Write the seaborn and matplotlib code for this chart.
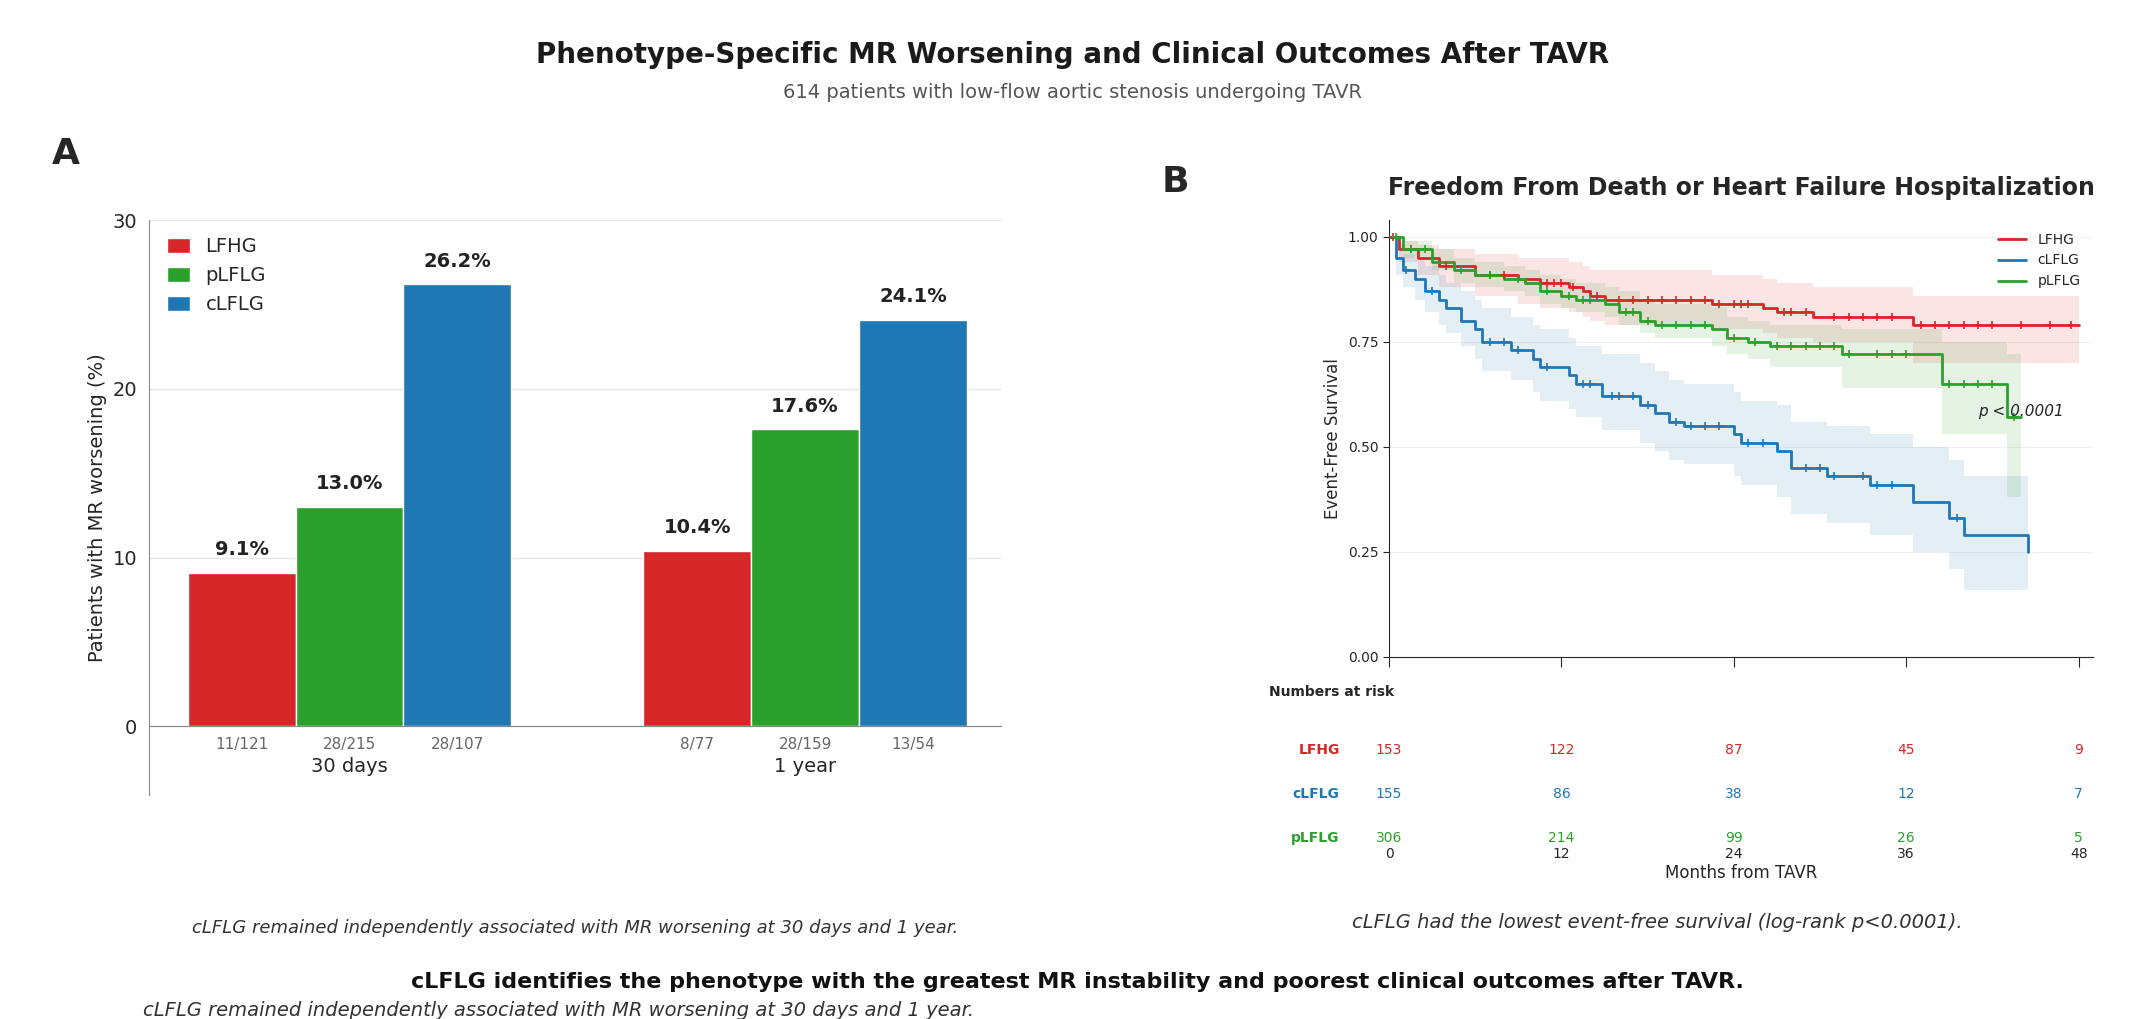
import numpy as np
import pandas as pd
import matplotlib
matplotlib.use("Agg")
import matplotlib.pyplot as plt
import seaborn as sns

sns.set_style("white")
plt.rcParams['font.family'] = ['DejaVu Sans']

RED = "#d62728"
GREEN = "#2ca02c"
BLUE = "#1f77b4"

# Panel A data
timepoints = ["30 days", "1 year"]
phenotypes = ["LFHG", "pLFLG", "cLFLG"]
pct_30d = [9.1, 13.0, 26.2]
pct_1y = [10.4, 17.6, 24.1]
frac_30d = ["11/121", "28/215", "28/107"]
frac_1y = ["8/77", "28/159", "13/54"]

# Panel B data (Kaplan-Meier steps)
times_r = [0, 0.7, 2, 3.5, 6, 9, 10.5, 12.5, 13.5, 14, 15, 22.5, 26, 27, 29.5, 36.5, 48]
surv_r = [1.0, 0.97, 0.95, 0.93, 0.91, 0.90, 0.89, 0.88, 0.87, 0.86, 0.85, 0.84, 0.83, 0.82, 0.81, 0.79, 0.79]
lo_r = [1.0, 0.94, 0.91, 0.88, 0.86, 0.84, 0.83, 0.82, 0.81, 0.80, 0.79, 0.78, 0.77, 0.76, 0.75, 0.70, 0.70]
hi_r = [1.0, 0.99, 0.98, 0.97, 0.96, 0.95, 0.95, 0.94, 0.93, 0.92, 0.92, 0.91, 0.90, 0.89, 0.88, 0.86, 0.86]
cens_r = [0.3, 1.5, 4, 7, 8, 11, 11.5, 12, 12.8, 14.5, 16, 17, 18, 19, 20, 21, 22, 23, 24, 24.5, 25,
          27.5, 28, 29, 31, 32, 33, 34, 35, 37, 38, 39, 40, 41, 42, 44, 46, 47.5]

times_g = [0, 1, 3, 4.5, 6, 8, 9.5, 10.5, 12, 13, 15, 16, 17.5, 18.5, 22.5, 23.5, 25, 26.5, 31.5, 38.5, 43, 44]
surv_g = [1.0, 0.97, 0.94, 0.92, 0.91, 0.90, 0.89, 0.87, 0.86, 0.85, 0.84, 0.82, 0.80, 0.79, 0.78, 0.76,
          0.75, 0.74, 0.72, 0.65, 0.57, 0.57]
lo_g = [1.0, 0.95, 0.92, 0.89, 0.88, 0.87, 0.86, 0.84, 0.83, 0.82, 0.81, 0.79, 0.77, 0.76, 0.74, 0.72,
        0.71, 0.69, 0.64, 0.53, 0.38, 0.38]
hi_g = [1.0, 0.99, 0.97, 0.95, 0.94, 0.93, 0.92, 0.91, 0.90, 0.89, 0.88, 0.87, 0.85, 0.84, 0.83, 0.81,
        0.80, 0.79, 0.78, 0.75, 0.72, 0.72]
cens_g = [0.5, 1.5, 2.5, 5, 7, 9, 11, 12.5, 13.5, 14, 16.5, 17, 18, 19, 20, 21, 22, 24, 25.5, 27, 28,
          29, 30, 31, 32, 34, 35, 36, 39, 40, 41, 42, 43.5]

times_b = [0, 0.5, 1, 1.8, 2.5, 3.5, 4, 5, 6, 6.5, 8.5, 10, 10.5, 12.5, 13, 14.8, 17.5, 18.5, 19.5, 20.5,
           24, 24.5, 27, 28, 30.5, 33.5, 36.5, 39, 40, 44.5]
surv_b = [1.0, 0.95, 0.92, 0.90, 0.87, 0.85, 0.83, 0.80, 0.78, 0.75, 0.73, 0.71, 0.69, 0.67, 0.65, 0.62,
          0.60, 0.58, 0.56, 0.55, 0.53, 0.51, 0.49, 0.45, 0.43, 0.41, 0.37, 0.33, 0.29, 0.25]
lo_b = [1.0, 0.91, 0.88, 0.85, 0.82, 0.79, 0.77, 0.74, 0.71, 0.68, 0.66, 0.63, 0.61, 0.59, 0.57, 0.54,
        0.51, 0.49, 0.47, 0.46, 0.43, 0.41, 0.38, 0.34, 0.32, 0.29, 0.25, 0.21, 0.16, 0.13]
hi_b = [1.0, 0.98, 0.96, 0.95, 0.93, 0.91, 0.89, 0.87, 0.85, 0.83, 0.81, 0.79, 0.78, 0.76, 0.74, 0.72,
        0.70, 0.68, 0.66, 0.65, 0.63, 0.61, 0.60, 0.56, 0.55, 0.53, 0.50, 0.47, 0.43, 0.43]
cens_b = [1.2, 3, 7, 8, 9, 11, 13.5, 14, 15.5, 16, 17, 18, 20, 21, 22, 23, 25, 26, 29, 30, 31, 33, 34,
          35, 39.5]

risk_times = [0, 12, 24, 36, 48]
risk_lfhg = [153, 122, 87, 45, 9]
risk_clflg = [155, 86, 38, 12, 7]
risk_plflg = [306, 214, 99, 26, 5]

fig = plt.figure(figsize=(21.45, 10.19), dpi=100)
W, H = 2145, 1019


def box(x0, y0, x1, y1):
    return [x0 / W, 1 - y1 / H, (x1 - x0) / W, (y1 - y0) / H]


fig.text(0.5, 1 - 55 / H, "Phenotype-Specific MR Worsening and Clinical Outcomes After TAVR",
         ha="center", va="center", fontsize=20, fontweight="bold", color="#1a1a1a")
fig.text(0.5, 1 - 92 / H, "614 patients with low-flow aortic stenosis undergoing TAVR",
         ha="center", va="center", fontsize=14, color="#555555")

# ---- Panel A ----
axA = fig.add_axes(box(149, 220, 1001, 795))
df = pd.DataFrame({
    "time": np.repeat(timepoints, 3),
    "pheno": phenotypes * 2,
    "pct": pct_30d + pct_1y,
})
sns.barplot(data=df, x="time", y="pct", hue="pheno", order=timepoints, hue_order=phenotypes,
            palette=[RED, GREEN, BLUE], width=0.71, saturation=1, ax=axA, legend=True)
axA.set_xlim(-0.44, 1.43)
axA.set_ylim(-4.07, 30)
axA.set_yticks([0, 10, 20, 30])
axA.tick_params(axis="y", labelsize=14, length=5)
axA.yaxis.grid(True, color="#e6e6e6", lw=1)
axA.set_axisbelow(True)
axA.spines["bottom"].set_position(("data", 0))
axA.spines["top"].set_visible(False)
axA.spines["right"].set_visible(False)
for s in ["left", "bottom"]:
    axA.spines[s].set_color("#888888")
axA.set_xticks([0, 1])
axA.set_xticklabels([])
axA.set_xlabel("")
axA.set_ylabel("Patients with MR worsening (%)", fontsize=14)
for cont in axA.containers:
    for bar in cont:
        h = bar.get_height()
        axA.text(bar.get_x() + bar.get_width() / 2, h + 0.8, f"{h:.1f}%", ha="center", va="bottom",
                 fontsize=14, fontweight="bold", color="#222222")
bw = 0.71 / 3
for gi, fracs in enumerate([frac_30d, frac_1y]):
    for k, f in enumerate(fracs):
        axA.text(gi + (k - 1) * bw, -1.1, f, ha="center", va="center", fontsize=11, color="#666666")
    axA.text(gi, -2.4, timepoints[gi], ha="center", va="center", fontsize=14)
axA.legend(loc="upper left", frameon=False, fontsize=14, handlelength=1.2, handleheight=0.8,
           bbox_to_anchor=(0.0, 1.0))
fig.text(52 / W, 1 - 154 / H, "A", fontsize=26, fontweight="bold", va="center")
fig.text(575 / W, 1 - 928 / H, "cLFLG remained independently associated with MR worsening at 30 days and 1 year.",
         ha="center", va="center", fontsize=13, style="italic", color="#333333")

# ---- Panel B ----
axB = fig.add_axes(box(1389, 220, 2093, 657))
groups = [("LFHG", RED, times_r, surv_r, lo_r, hi_r, cens_r),
          ("cLFLG", BLUE, times_b, surv_b, lo_b, hi_b, cens_b),
          ("pLFLG", GREEN, times_g, surv_g, lo_g, hi_g, cens_g)]
for name, col, t, s, lo, hi, cens in groups:
    axB.fill_between(t, lo, hi, step="post", color=col, alpha=0.12, lw=0)
    sns.lineplot(x=t, y=s, drawstyle="steps-post", color=col, lw=2, label=name, ax=axB)
    idx = np.searchsorted(t, cens, side="right") - 1
    axB.scatter(cens, np.array(s)[idx], marker="+", s=40, color=col, lw=1.2, zorder=3)
axB.set_xlim(0, 49)
axB.set_ylim(0, 1.04)
axB.set_yticks([0, 0.25, 0.5, 0.75, 1.0])
axB.set_yticklabels(["0.00", "0.25", "0.50", "0.75", "1.00"])
axB.set_xticks(risk_times)
axB.set_xticklabels([])
axB.tick_params(axis="x", length=7, direction="out", bottom=True)
axB.tick_params(axis="y", labelsize=10, length=4, left=True)
axB.yaxis.grid(True, color="#f0f0f0")
axB.spines["top"].set_visible(False)
axB.spines["right"].set_visible(False)
axB.set_ylabel("Event-Free Survival", fontsize=12)
axB.legend(loc="upper right", frameon=False, fontsize=10)
axB.text(41, 0.585, "p < 0.0001", fontsize=11, style="italic", ha="left", va="center")
axB.set_title("Freedom From Death or Heart Failure Hospitalization", fontsize=17, fontweight="bold",
              pad=18)
fig.text(1162 / W, 1 - 182 / H, "B", fontsize=26, fontweight="bold", va="center")

# risk table
axR = fig.add_axes(box(1389, 681, 2093, 846))
axR.set_xlim(0, 49)
axR.set_ylim(0.81, 4.56)
for r, (name, col, vals) in zip([3, 2, 1], [("LFHG", RED, risk_lfhg), ("cLFLG", BLUE, risk_clflg),
                                            ("pLFLG", GREEN, risk_plflg)]):
    axR.text(-0.07, r, name, transform=axR.get_yaxis_transform(), ha="right", va="center",
             color=col, fontsize=10, fontweight="bold")
    for tt, v in zip(risk_times, vals):
        axR.text(tt, r, str(v), ha="center", va="center", color=col, fontsize=10)
axR.text(-0.17, 4.3, "Numbers at risk", transform=axR.get_yaxis_transform(), ha="left", va="center",
         fontsize=10, fontweight="bold")
axR.set_xticks(risk_times)
axR.set_yticks([])
axR.tick_params(axis="x", length=0, labelsize=10, pad=1)
axR.set_xlabel("Months from TAVR", fontsize=12, labelpad=2)
for s in axR.spines.values():
    s.set_visible(False)
fig.text(1657 / W, 1 - 923 / H, "cLFLG had the lowest event-free survival (log-rank p<0.0001).",
         ha="center", va="center", fontsize=14, style="italic", color="#333333")

fig.text(1077 / W, 1 - 982 / H,
         "cLFLG identifies the phenotype with the greatest MR instability and poorest clinical outcomes after TAVR.",
         ha="center", va="center", fontsize=16, fontweight="bold", color="#111111")
fig.text(143 / W, 1 - 1011 / H, "cLFLG remained independently associated with MR worsening at 30 days and 1 year.",
         ha="left", va="center", fontsize=14, style="italic", color="#333333")

fig.savefig("out.png", dpi=100)
